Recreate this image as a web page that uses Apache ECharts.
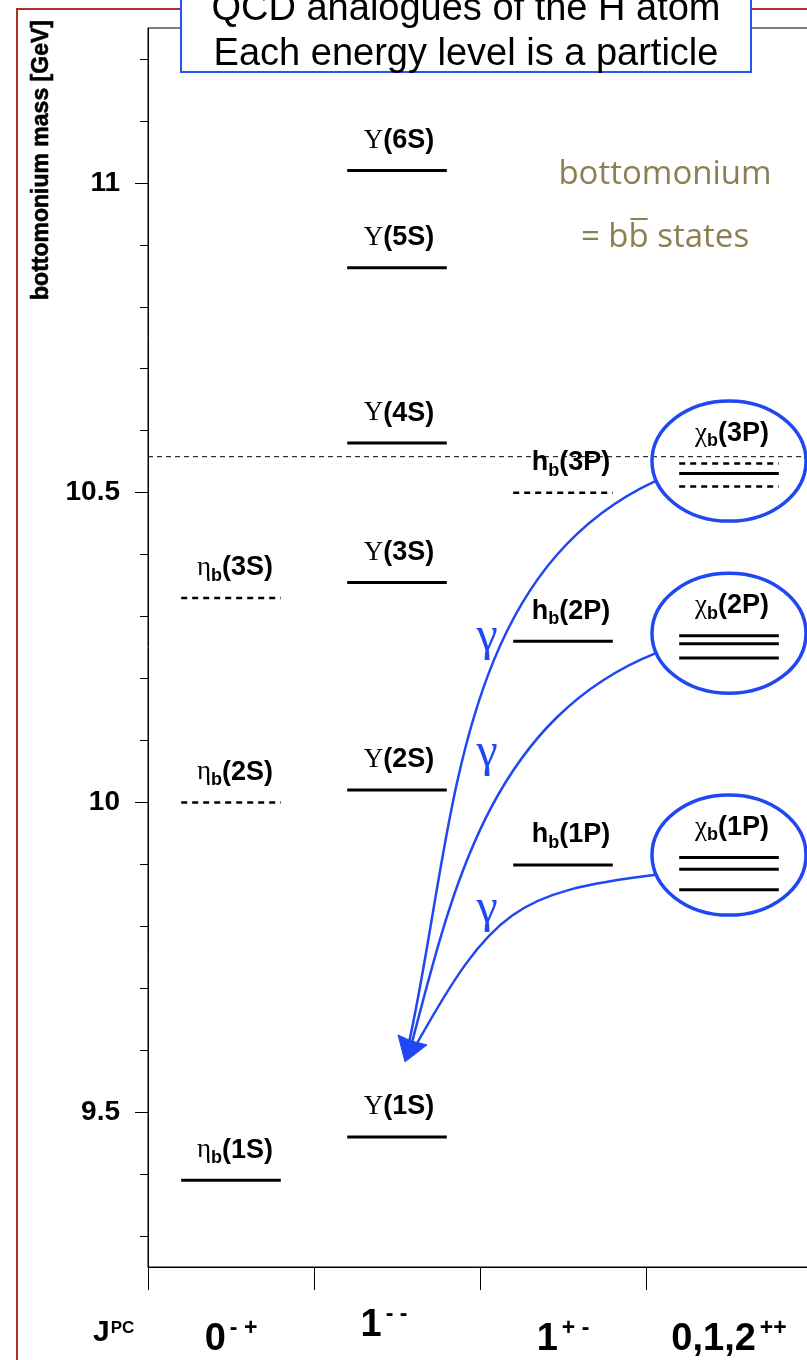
<!DOCTYPE html>
<html><head><meta charset="utf-8">
<script src="https://cdn.jsdelivr.net/npm/echarts@6.0.0/dist/echarts.min.js"></script>
<style>html,body{margin:0;padding:0;background:#fff}#c{width:807px;height:1360px}</style>
</head><body><div id="c"></div>
<script>
// ---------------- data ----------------
const categories = ['0-+', '1--', '1+-', '0,1,2++'];      // J^PC columns
const yTicks = [9.5, 10, 10.5, 11];
const yMinorTicks = [9.3, 9.4, 9.6, 9.7, 9.8, 9.9, 10.1, 10.2, 10.3, 10.4, 10.6, 10.7, 10.8, 10.9, 11.1, 11.2];

const etaNames = ['1S', '2S', '3S'];
const etaMass = [9.39, 10.00, 10.33];
const etaObserved = [true, false, false];

const upsNames = ['1S', '2S', '3S', '4S', '5S', '6S'];
const upsMass = [9.46, 10.02, 10.355, 10.58, 10.863, 11.02];

const hbNames = ['1P', '2P', '3P'];
const hbMass = [9.899, 10.26, 10.50];
const hbObserved = [true, true, false];

const chiNames = ['1P', '2P', '3P'];
const chi1P = [9.859, 9.892, 9.911];
const chi2P = [10.233, 10.256, 10.269];
const chi3P = [10.510, 10.531, 10.547];
const chi3PObserved = [false, true, false];

const threshold = 10.558;                 // open-bottom (B Bbar) threshold
const gammaMass = [9.827, 10.079, 10.266]; // where the photon labels sit

// ---------------- build ----------------
const FONT = 'Liberation Sans';
const BLUE = '#1f48f2';
const levels = [];
etaMass.forEach((m, i) => levels.push([0, m, etaObserved[i] ? 0 : 1]));
upsMass.forEach(m => levels.push([1, m, 0]));
hbMass.forEach((m, i) => levels.push([2, m, hbObserved[i] ? 0 : 1]));
chi1P.forEach(m => levels.push([3, m, 0]));
chi2P.forEach(m => levels.push([3, m, 0]));
chi3P.forEach((m, i) => levels.push([3, m, chi3PObserved[i] ? 0 : 1]));

const labels = [], labelTexts = [];
etaNames.forEach((n, i) => { labels.push([0, etaMass[i]]); labelTexts.push('{g|η}{s|b}{n|(' + n + ')}'); });
upsNames.forEach((n, i) => { labels.push([1, upsMass[i]]); labelTexts.push('{g|Υ}{n|(' + n + ')}'); });
hbNames.forEach((n, i) => { labels.push([2, hbMass[i]]); labelTexts.push('{n|h}{s|b}{n|(' + n + ')}'); });
const multiplets = [chi1P, chi2P, chi3P];
multiplets.forEach((arr, i) => { labels.push([3, Math.max(...arr)]); labelTexts.push('{g|χ}{s|b}{n|(' + chiNames[i] + ')}'); });
const labelDx = [4, 2, 8, 3];

const LABEL_RICH = {
  g: { fontFamily: 'Liberation Serif', fontSize: 27, fill: '#000', lineHeight: 34, verticalAlign: 'middle' },
  n: { fontFamily: FONT, fontWeight: 'bold', fontSize: 27, fill: '#000', lineHeight: 34, verticalAlign: 'middle' },
  s: { fontFamily: FONT, fontWeight: 'bold', fontSize: 18, fill: '#000', lineHeight: 16, verticalAlign: 'bottom' }
};

const ellipseData = multiplets.map(arr => [3, Math.max(...arr) + 0.004]);
// curve control points as fractions of (end - start)
const curveCtrl = [[0.58, 0.10, 0.68, 0.20], [0.686, 0.17, 0.837, 0.62], [0.827, 0.167, 0.806, 0.627]];
const curveEndOff = [[10, -15], [5, -12], [2, -10]];

function catLabel(v, i) {
  const c = categories[i];
  const J = c.slice(0, -2), P = c[c.length - 2], C = c[c.length - 1];
  const sup = (P === '+' && C === '+') ? '++' : P + ' ' + C;
  if (i === 1) return '{d|' + J + '}{uR|' + sup + '}';
  return '{dl|' + J + '}{ul|' + sup + '}';
}

const chart = echarts.init(document.getElementById('c'));

const ctx = document.createElement('canvas').getContext('2d');
ctx.font = '33px "Open Sans"';
const olW = ctx.measureText('= bb states').width;
const olPre = ctx.measureText('= b').width;
const olB = ctx.measureText('b').width;
const olLeft = 665 - olW / 2;

const digit = { fontSize: 38, fontWeight: 'bold', fontFamily: FONT, color: '#000', lineHeight: 44, verticalAlign: 'top' };
const sup = { fontSize: 23, fontWeight: 'bold', fontFamily: FONT, color: '#000', lineHeight: 22, verticalAlign: 'top' };

const option = {
  animation: false,
  grid: { left: 148, top: 28, right: -5, bottom: 93, show: true, borderColor: '#000', borderWidth: 1, containLabel: false, outerBoundsMode: 'none' },
  xAxis: {
    type: 'category', data: categories, boundaryGap: true,
    axisLine: { lineStyle: { color: '#000', width: 1 } },
    axisTick: { show: true, length: 23, alignWithLabel: false, interval: 0, lineStyle: { color: '#000', width: 1 } },
    axisLabel: {
      interval: 0, margin: 36, formatter: catLabel,
      rich: {
        d: Object.assign({}, digit, { padding: [4, 0, 0, 0] }),
        dl: Object.assign({}, digit, { padding: [18, 0, 0, 0] }),
        uR: Object.assign({}, sup, { padding: [0, 26, 0, 4] }),
        ul: Object.assign({}, sup, { padding: [14, 0, 0, 4] })
      }
    },
    splitLine: { show: false }
  },
  yAxis: [{
    type: 'value', min: 9.25, max: 11.25, position: 'left',
    axisLine: { show: true, lineStyle: { color: '#000', width: 1 } },
    axisTick: { show: true, length: 13, customValues: yTicks, lineStyle: { color: '#000', width: 1 } },
    axisLabel: { customValues: yTicks, margin: 28, fontSize: 28, fontWeight: 'bold', fontFamily: FONT, color: '#000', formatter: v => String(v) },
    splitLine: { show: false }
  }, {
    type: 'value', min: 9.25, max: 11.25, position: 'left',
    axisLine: { show: false },
    axisTick: { show: true, length: 8, customValues: yMinorTicks, lineStyle: { color: '#000', width: 1 } },
    axisLabel: { show: false }, splitLine: { show: false }
  }],
  graphic: [
    { type: 'polyline', z: 1, shape: { points: [[17, 1365], [17, 9], [812, 9]] }, style: { stroke: '#ad3222', lineWidth: 2, fill: null } },
    { type: 'rect', z: 10, shape: { x: 181, y: -20, width: 570, height: 92 }, style: { fill: '#fff', stroke: '#2456f2', lineWidth: 2 } },
    { type: 'text', z: 11, x: 466, y: 10, style: { text: 'QCD analogues of the H atom', fontSize: 38, fontFamily: FONT, fill: '#000', align: 'center', verticalAlign: 'middle' } },
    { type: 'text', z: 11, x: 466, y: 55, style: { text: 'Each energy level is a particle', fontSize: 38, fontFamily: FONT, fill: '#000', align: 'center', verticalAlign: 'middle' } },
    { type: 'text', x: 42, y: 160, rotation: Math.PI / 2, style: { text: 'bottomonium mass [GeV]', fontSize: 23, fontWeight: 'bold', fontFamily: FONT, fill: '#000', align: 'center', verticalAlign: 'middle', stroke: '#000', lineWidth: 0.6 } },
    { type: 'text', x: 665, y: 175, style: { text: 'bottomonium', fontSize: 33, fontFamily: 'Open Sans', fill: '#8c8052', align: 'center', verticalAlign: 'middle' } },
    { type: 'text', x: 665, y: 238, style: { text: '= bb states', fontSize: 33, fontFamily: 'Open Sans', fill: '#8c8052', align: 'center', verticalAlign: 'middle' } },
    { type: 'line', shape: { x1: olLeft + olPre + 2, y1: 219, x2: olLeft + olPre + olB - 1, y2: 219 }, style: { stroke: '#8c8052', lineWidth: 2 } },
    { type: 'text', x: 93, y: 1318, style: { text: '{j|J}{p|PC}', verticalAlign: 'top', rich: {
      j: { fontSize: 30, fontWeight: 'bold', fontFamily: FONT, fill: '#000', lineHeight: 36, verticalAlign: 'top' },
      p: { fontSize: 17, fontWeight: 'bold', fontFamily: FONT, fill: '#000', lineHeight: 17, verticalAlign: 'top', padding: [2, 0, 0, 1] } } } }
  ],
  series: [
    {
      type: 'custom', name: 'levels', data: levels, z: 3,
      renderItem(params, api) {
        const c = api.coord([api.value(0), api.value(1)]);
        const half = api.size([1, 0])[0] * 0.3;
        const dashed = api.value(2) === 1;
        return { type: 'line', shape: { x1: c[0] - half, y1: c[1], x2: c[0] + half, y2: c[1] },
          style: { stroke: '#000', lineWidth: dashed ? 2.5 : 3, lineDash: dashed ? [6, 5] : null } };
      }
    },
    {
      type: 'custom', name: 'labels', data: labels, z: 4,
      renderItem(params, api) {
        const cat = api.value(0);
        const c = api.coord([cat, api.value(1)]);
        return { type: 'text', x: c[0] + labelDx[cat], y: c[1] - 30,
          style: { text: labelTexts[params.dataIndex], rich: LABEL_RICH, align: 'center', verticalAlign: 'middle' } };
      }
    },
    {
      type: 'custom', name: 'threshold', data: [[0, threshold]], z: 5,
      renderItem(params, api) {
        const c = api.coord([0, api.value(1)]);
        const cs = params.coordSys;
        return { type: 'line', shape: { x1: cs.x, y1: c[1], x2: cs.x + cs.width, y2: c[1] },
          style: { stroke: '#000', lineWidth: 1, lineDash: [5, 4] } };
      }
    },
    {
      type: 'custom', name: 'multiplets', data: ellipseData, z: 6,
      renderItem(params, api) {
        const c = api.coord([api.value(0), api.value(1)]);
        const rx = api.size([1, 0])[0] * 0.464;
        const ry = api.size([0, 0.097])[1];
        return { type: 'ellipse', shape: { cx: c[0], cy: c[1], rx: rx, ry: ry },
          style: { fill: 'none', stroke: BLUE, lineWidth: 3.5 } };
      }
    },
    {
      type: 'custom', name: 'transitions', data: ellipseData, z: 7,
      renderItem(params, api) {
        const i = params.dataIndex;
        const c = api.coord([api.value(0), api.value(1)]);
        const rx = api.size([1, 0])[0] * 0.464;
        const ry = api.size([0, 0.097])[1];
        const S = [c[0] - 0.95 * rx, c[1] + 0.33 * ry];
        const u = api.coord([1, upsMass[0]]);
        const T = [u[0] + 8, u[1] - 75];
        const E = [T[0] + curveEndOff[i][0], T[1] + curveEndOff[i][1]];
        const f = curveCtrl[i];
        const dx = E[0] - S[0], dy = E[1] - S[1];
        const g = api.coord([1, gammaMass[i]]);
        const children = [
          { type: 'bezierCurve', shape: { x1: S[0], y1: S[1], x2: E[0], y2: E[1],
              cpx1: S[0] + f[0] * dx, cpy1: S[1] + f[1] * dy, cpx2: S[0] + f[2] * dx, cpy2: S[1] + f[3] * dy },
            style: { stroke: BLUE, lineWidth: 2.5, fill: 'none' } },
          { type: 'text', x: g[0] + 90, y: g[1], style: { text: 'γ', fontSize: 48, fontFamily: 'Liberation Serif', fill: BLUE, align: 'center', verticalAlign: 'middle' } }
        ];
        if (i === 0) {
          children.push({ type: 'polygon', shape: { points: [[T[0], T[1]], [T[0] - 7, T[1] - 27], [T[0] + 6, T[1] - 21], [T[0] + 22, T[1] - 17]] },
            style: { fill: BLUE, stroke: BLUE, lineWidth: 1 } });
        }
        return { type: 'group', children };
      }
    }
  ]
};
chart.setOption(option);
</script>
</body></html>
